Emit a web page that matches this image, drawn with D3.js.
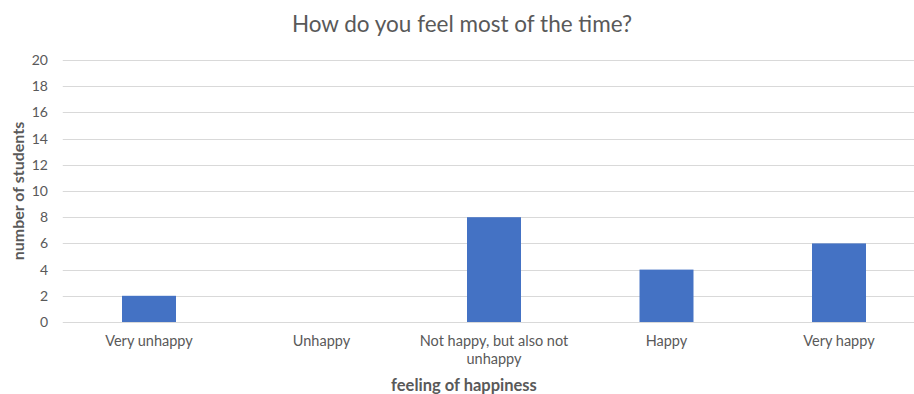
<!DOCTYPE html>
<html><head><meta charset="utf-8">
<script src="https://cdn.jsdelivr.net/npm/d3@7/dist/d3.min.js"></script>
<style>body{margin:0;background:#fff}svg{display:block}</style>
</head><body>
<svg id="c" width="914" height="394"></svg>
<script>
const categories = [["Very unhappy"], ["Unhappy"], ["Not happy, but also not", "unhappy"], ["Happy"], ["Very happy"]];
const values = [2, 0, 8, 4, 6];
const yTicks = [0, 2, 4, 6, 8, 10, 12, 14, 16, 18, 20];
const title = "How do you feel most of the time?";
const xTitle = "feeling of happiness";
const yTitle = "number of students";

const svg = d3.select("#c");
const font = "Lato, 'Open Sans', sans-serif";
const x = d3.scaleBand().domain(d3.range(categories.length)).range([62.75, 925.25]).paddingInner(0.687).paddingOuter(0.3435);
const y = d3.scaleLinear().domain([0, 20]).range([322, 60]);

svg.append("g").selectAll("line").data(yTicks).join("line")
  .attr("x1", 62.75).attr("x2", 914).attr("y1", d => Math.round(y(d)) + 0.5).attr("y2", d => Math.round(y(d)) + 0.5)
  .attr("stroke", "#d9d9d9").attr("stroke-width", 1);

svg.append("g").selectAll("rect").data(values).join("rect")
  .attr("x", (d, i) => x(i)).attr("width", x.bandwidth())
  .attr("y", d => y(d)).attr("height", d => y(0) - y(d))
  .attr("fill", "#4472c4");

svg.append("g").selectAll("text").data(yTicks).join("text")
  .attr("x", 48).attr("y", d => y(d)).attr("dy", "0.35em").attr("text-anchor", "end")
  .attr("font-family", font).attr("font-size", 14).attr("fill", "#595959").text(d => d);

const xl = svg.append("g").selectAll("text").data(categories).join("text")
  .attr("x", (d, i) => x(i) + x.bandwidth() / 2).attr("y", 346).attr("text-anchor", "middle")
  .attr("font-family", font).attr("font-size", 14.5).attr("fill", "#595959");
xl.selectAll("tspan").data(d => d).join("tspan")
  .attr("x", function() { return this.parentNode.getAttribute("x"); })
  .attr("dy", (d, i) => i === 0 ? 0 : 18).text(d => d);

svg.append("text").attr("x", 462).attr("y", 32).attr("text-anchor", "middle")
  .attr("font-family", font).attr("font-size", 22.5).attr("fill", "#595959").text(title);
svg.append("text").attr("x", 464).attr("y", 391).attr("text-anchor", "middle")
  .attr("font-family", font).attr("font-size", 16.5).attr("font-weight", "bold").attr("fill", "#595959").text(xTitle);
svg.append("text").attr("transform", "translate(24,191) rotate(-90)").attr("text-anchor", "middle")
  .attr("font-family", font).attr("font-size", 16).attr("font-weight", "bold").attr("fill", "#595959").text(yTitle);
</script>
</body></html>
